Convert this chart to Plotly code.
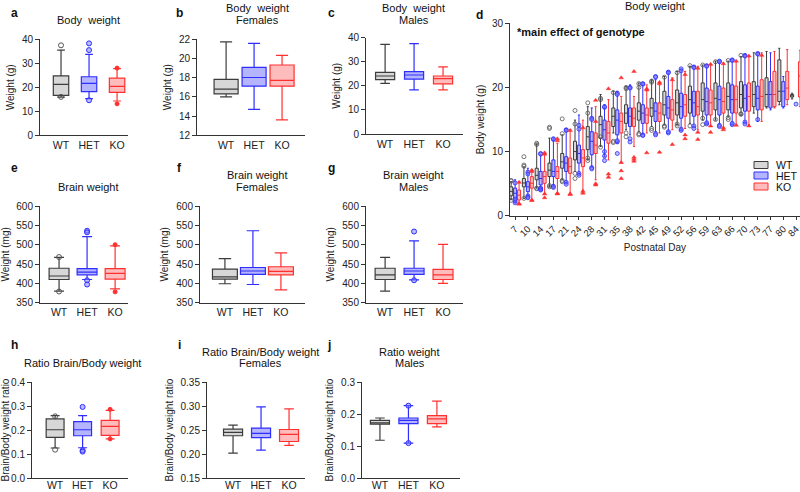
import plotly.graph_objects as go

W, H = 800, 492
FONT = "Liberation Sans, Arial, sans-serif"

genotypes = ["WT", "HET", "KO"]
line_colors = {"WT": "#3c3c3c", "HET": "#2e2eff", "KO": "#ff3030"}
fill_colors = {"WT": "rgba(140,140,140,0.35)", "HET": "rgba(70,70,255,0.40)", "KO": "rgba(255,80,80,0.38)"}

# ---------- small panels: [lower whisker, Q1, median, Q3, upper whisker] ----------
a_wt = [15.9, 16.6, 21.2, 24.8, 35.5]
a_het = [15.3, 18.2, 21.6, 24.4, 33.7]
a_ko = [14.3, 17.9, 20.4, 23.8, 27.8]
a_wt_out = [37.5, 16.0]
a_het_out = [38.3, 35.5, 14.6]
a_ko_out = [28.0, 13.1]

b_wt = [16.0, 16.3, 16.8, 17.8, 21.7]
b_het = [14.7, 17.1, 18.0, 19.05, 21.55]
b_ko = [13.6, 17.1, 17.7, 19.3, 20.3]

c_wt = [21.0, 22.6, 24.1, 25.6, 37.2]
c_het = [18.3, 22.8, 24.5, 25.9, 37.5]
c_ko = [18.3, 20.8, 23.0, 24.1, 27.9]

e_wt = [380, 410, 419, 439, 467]
e_het = [410, 422, 429, 438, 521]
e_ko = [386, 411, 426, 438, 497]
e_wt_out = [468, 379]
e_het_out = [536, 532, 408, 397]
e_ko_out = [500, 378]

f_wt = [399, 411, 417, 437, 464]
f_het = [397, 423, 432, 441, 536]
f_ko = [383, 422, 431, 443, 479]

g_wt = [380, 410, 422, 439, 467]
g_het = [409, 423, 432, 439, 510]
g_ko = [400, 410, 422, 436, 501]
g_het_out = [534, 408]

h_wt = [0.125, 0.169, 0.201, 0.246, 0.260]
h_het = [0.126, 0.176, 0.201, 0.235, 0.260]
h_ko = [0.163, 0.178, 0.215, 0.240, 0.282]
h_wt_out = [0.257, 0.118]
h_het_out = [0.296, 0.115, 0.110]
h_ko_out = [0.286, 0.163]

i_wt = [0.202, 0.238, 0.245, 0.252, 0.260]
i_het = [0.208, 0.234, 0.243, 0.254, 0.298]
i_ko = [0.218, 0.226, 0.241, 0.251, 0.294]

j_wt = [0.118, 0.168, 0.172, 0.180, 0.1875]
j_het = [0.109, 0.170, 0.180, 0.1875, 0.226]
j_ko = [0.160, 0.170, 0.185, 0.195, 0.240]
j_het_out = [0.226, 0.109]

# ---------- panel d: body weight by postnatal day ----------
days = [7, 10, 14, 17, 21, 24, 28, 31, 35, 38, 42, 45, 49, 52, 56, 59, 63, 66, 70, 73, 77, 80, 84]

wt_lo = [2.5, 2.7, 4.3, 4.5, 5.6, 6.9, 8.7, 10.8, 12.9, 13.4, 13.1, 13.9, 14.2, 14.2, 14.4, 14.9, 14.9, 15.5, 15.7, 16.0, 16.8, 17.3, 18.2]
wt_q1 = [3.1, 4.5, 5.6, 6.1, 7.4, 8.7, 10.3, 12.1, 13.9, 14.4, 14.9, 15.5, 15.7, 15.7, 16.0, 16.3, 16.5, 16.5, 16.8, 17.0, 17.0, 17.8, 18.5]
wt_med = [3.8, 5.1, 6.3, 7.1, 8.4, 10.0, 12.3, 14.2, 15.5, 16.0, 16.3, 16.8, 17.3, 17.6, 18.1, 18.1, 18.3, 18.6, 18.9, 18.9, 18.9, 19.4, 18.7]
wt_q3 = [4.5, 5.8, 7.4, 8.2, 9.7, 11.6, 13.9, 15.5, 16.8, 17.3, 17.6, 18.3, 19.4, 19.6, 20.2, 20.7, 20.7, 20.7, 20.9, 20.9, 21.5, 24.3, 18.9]
wt_hi = [5.3, 7.6, 11.2, 12.1, 12.6, 14.9, 17.0, 18.9, 19.4, 20.2, 20.7, 21.2, 21.7, 22.5, 23.3, 23.5, 24.1, 24.1, 24.8, 25.4, 25.6, 26.1, 19.1]

het_lo = [2.0, 3.0, 4.0, 4.3, 5.05, 6.35, 7.65, 9.2, 11.3, 12.6, 12.6, 13.1, 13.1, 13.4, 13.9, 14.4, 14.2, 14.2, 14.4, 14.7, 16.5, 16.8, None]
het_q1 = [2.7, 3.75, 4.8, 6.1, 6.9, 8.2, 9.5, 11.8, 12.6, 13.9, 14.4, 14.7, 15.2, 15.2, 15.5, 15.7, 15.7, 16.0, 16.3, 16.5, 16.8, 17.0, None]
het_med = [3.5, 4.5, 5.8, 6.9, 8.2, 9.7, 11.6, 13.4, 14.9, 15.5, 16.0, 16.3, 16.8, 17.0, 17.6, 17.8, 18.1, 18.1, 18.3, 18.3, 18.9, 19.4, None]
het_q3 = [4.3, 5.3, 6.9, 8.7, 9.2, 11.0, 13.1, 14.9, 16.5, 16.8, 17.3, 17.6, 18.6, 19.1, 19.4, 19.9, 20.2, 20.4, 20.4, 20.2, 20.9, 20.9, None]
het_hi = [5.6, 7.4, 9.5, 12.1, 13.6, 15.7, 16.8, 17.3, 19.4, 20.4, 20.7, 21.2, 22.5, 22.8, 23.3, 23.5, 24.1, 24.3, 25.1, 25.4, 25.4, 21.7, None]

ko_lo = [1.9, 2.45, 3.5, 3.5, 3.5, 4.0, 5.6, 8.7, 8.2, 10.8, 12.9, 12.9, 13.4, 13.6, 13.4, 13.9, 13.6, 14.2, 14.2, 14.7, 16.8, 17.3, 17.0]
ko_q1 = [2.45, 4.3, 5.05, 5.8, 6.6, 7.65, 9.7, 11.3, 12.9, 13.9, 14.4, 14.7, 14.9, 15.5, 15.7, 15.7, 16.0, 16.0, 16.3, 16.5, 17.0, 18.1, 18.5]
ko_med = [3.2, 5.05, 6.1, 6.9, 7.65, 9.0, 11.0, 12.9, 14.7, 15.2, 15.7, 16.0, 16.5, 17.3, 17.0, 17.6, 17.8, 18.1, 18.6, 18.6, 18.9, 19.9, 21.8]
ko_q3 = [4.0, 6.1, 6.9, 7.65, 9.0, 10.3, 12.9, 14.7, 16.0, 16.8, 16.8, 17.6, 18.1, 18.9, 19.4, 19.6, 19.9, 20.2, 20.7, 21.2, 22.5, 22.5, 24.0]
ko_hi = [5.3, 7.1, 9.7, 11.3, 13.4, 14.9, 17.0, 18.1, 18.6, 18.6, 20.4, 20.4, 21.5, 22.5, 23.3, 23.5, 23.8, 24.1, 24.8, 25.4, 25.6, 25.9, 25.8]

# individual points outside the whiskers, one list per day
wt_pts = [[5.4, 5.5, 2.4], [9.2, 7.9, 7.7, 2.7], [11.3, 11.1, 4.2, 4.3], [13.8, 13.6, 4.7, 4.5], [15.1, 12.8, 5.5, 5.3],
          [16.4, 14.3, 6.6, 5.8], [17.6, 16.0, 9.0, 8.6], [18.3, 18.1, 12.3, 10.7], [19.2, 11.6, 11.4], [20.0, 19.8, 12.9, 12.3],
          [20.6, 20.0, 12.6, 12.8], [21.0, 20.8, 13.6, 13.3], [21.6, 14.0, 13.8], [22.3, 14.3, 14.0], [23.4, 14.0],
          [23.5, 15.2, 14.2], [24.0, 15.0], [24.2, 15.3, 15.0], [25.0, 15.8, 15.9], [], [], [], []]
het_pts = [[5.1, 2.0, 2.3, 2.6], [6.8, 6.5, 3.1, 2.9, 2.8], [9.7, 9.6, 4.1, 4.2, 4.3, 4.0], [11.9, 12.0, 4.6, 4.4],
           [13.4, 13.3, 5.2, 4.9], [14.1, 13.5, 6.6, 6.3], [15.2, 15.0, 7.5, 7.3], [16.9, 17.0, 9.3, 8.6, 10.0],
           [19.1, 18.9, 11.5, 11.7, 9.7], [20.0, 19.9, 12.0, 11.5], [20.5, 20.6, 12.6, 12.5], [21.7, 21.6, 12.8, 12.6],
           [22.4, 22.3, 12.9, 13.1], [22.9, 22.6, 13.3, 13.5], [23.2, 23.1, 13.6, 14.0], [23.4, 23.3, 14.3, 14.5],
           [24.1, 24.0, 13.9, 14.1], [24.3, 24.2, 14.2, 14.4], [25.0, 24.9, 14.6, 14.3], [25.3, 25.2, 15.0], [], [], [17.4]]
ko_pts = [[5.2, 1.8, 1.9], [7.1, 6.9, 2.4, 2.4], [9.6, 9.8, 3.4, 2.8], [11.7, 12.0, 3.4, 3.5], [13.3, 3.4, 3.3],
          [13.7, 3.5, 3.8], [18.0, 14.7, 5.0, 4.8], [19.8, 6.5, 6.0], [21.5, 8.3, 7.0, 5.8], [22.5, 9.1, 8.8, 8.5],
          [19.8, 19.6, 9.8], [20.6, 20.8, 9.9], [21.2, 11.1], [22.0, 12.6, 12.0], [23.0, 13.0, 11.9],
          [23.6, 14.0, 13.0], [23.7, 13.7, 13.4], [24.1, 14.1], [24.9, 14.0], [25.0], [], [], []]

# ---------- layout of panels (pixel geometry) ----------
panels = [
    # key, x px, y px (top,bottom), x range, y range, dtick, fmt, y title, box width
    ("a", (40, 128), (39.3, 135.3), (-0.75, 2.39), (0, 40), 10, "d", "Weight (g)", 0.55),
    ("b", (197, 305), (39, 135.3), (-1.04, 2.82), (12, 22), 2, "d", "Weight (g)", 0.86),
    ("c", (366, 463), (37.7, 134), (-0.66, 2.69), (0, 40), 10, "d", "Weight (g)", 0.66),
    ("d", (510, 800), (23.3, 215.7), (-0.4, 22.31), (0, 30), 10, "d", "Body weight (g)", 0.24),
    ("e", (40, 128), (206, 302.7), (-0.68, 2.46), (350, 600), 50, "d", "Weight (mg)", 0.71),
    ("f", (200, 305), (206, 302.7), (-0.89, 2.86), (350, 600), 50, "d", "Weight (mg)", 0.89),
    ("g", (366, 463), (206, 302.7), (-0.66, 2.69), (350, 600), 50, "d", "Weight (mg)", 0.69),
    ("h", (32, 128), (382, 478), (-0.84, 2.65), (0, 0.4), 0.1, ".1f", "Brain/Body weight ratio", 0.65),
    ("i", (207, 305), (382, 478), (-0.93, 2.57), (0.15, 0.35), 0.05, ".2f", "Brain/Body weight ratio", 0.68),
    ("j", (362, 460), (382, 478), (-0.63, 2.81), (0, 0.3), 0.1, ".1f", "Brain/Body weight ratio", 0.67),
]

small_data = {
    "a": ([a_wt, a_het, a_ko], [a_wt_out, a_het_out, a_ko_out]),
    "b": ([b_wt, b_het, b_ko], [[], [], []]),
    "c": ([c_wt, c_het, c_ko], [[], [], []]),
    "e": ([e_wt, e_het, e_ko], [e_wt_out, e_het_out, e_ko_out]),
    "f": ([f_wt, f_het, f_ko], [[], [], []]),
    "g": ([g_wt, g_het, g_ko], [[], g_het_out, []]),
    "h": ([h_wt, h_het, h_ko], [h_wt_out, h_het_out, h_ko_out]),
    "i": ([i_wt, i_het, i_ko], [[], [], []]),
    "j": ([j_wt, j_het, j_ko], [[], j_het_out, []]),
}

fig = go.Figure()
layout = dict(template="none", width=W, height=H, margin=dict(l=0, r=0, t=0, b=0, pad=0, autoexpand=False),
              paper_bgcolor="white", plot_bgcolor="white",
              font=dict(family=FONT, color="#222", size=10), boxmode="overlay",
              showlegend=False)

marker_style = {
    "WT": dict(symbol="circle-open", color="#555", size=5, line=dict(width=1, color="#555")),
    "HET": dict(symbol="circle", color="rgba(120,120,255,0.5)", size=5, line=dict(width=1, color="#2e2eff")),
    "KO": dict(symbol="circle", color="#ff3030", size=4, line=dict(width=1, color="#ff3030")),
}
marker_style_d = {
    "WT": dict(symbol="circle-open", color="#555", size=4, line=dict(width=0.8, color="#555")),
    "HET": dict(symbol="circle", color="rgba(120,120,255,0.5)", size=4, line=dict(width=0.8, color="#2e2eff")),
    "KO": dict(symbol="triangle-up", color="#ff3030", size=4, line=dict(width=0.5, color="#ff3030")),
}

for n, (key, pxr, pyr, xr, yr, dt, fmt, ytitle, bw) in enumerate(panels, start=1):
    xa = "x" if n == 1 else f"x{n}"
    ya = "y" if n == 1 else f"y{n}"
    xk = "xaxis" if n == 1 else f"xaxis{n}"
    yk = "yaxis" if n == 1 else f"yaxis{n}"
    axis_common = dict(showline=True, linecolor="#333", linewidth=1, showgrid=False, zeroline=False,
                       automargin=False, tickcolor="#333", ticklabeloverflow="allow",
                       tickfont=dict(size=10, family=FONT, color="#222"))
    layout[yk] = dict(domain=[1 - pyr[1] / H, 1 - pyr[0] / H], range=list(yr), anchor=xa,
                      tickmode="linear", tick0=yr[0], dtick=dt, tickformat=fmt, ticks="outside", ticklen=4,
                      title=dict(text=ytitle, font=dict(size=10, family=FONT, color="#222"), standoff=5),
                      **axis_common)
    if key == "d":
        layout[xk] = dict(domain=[pxr[0] / W, pxr[1] / W], range=list(xr), anchor=ya,
                          tickmode="array", tickvals=list(range(len(days))), ticktext=[str(d) for d in days],
                          tickangle=-45, ticks="outside", ticklen=3,
                          title=dict(text="Postnatal Day", font=dict(size=10, family=FONT, color="#222"), standoff=6),
                          **axis_common)
        layout[xk]["tickfont"] = dict(size=9.5, family=FONT, color="#222")
        series = [
            ("WT", wt_lo, wt_q1, wt_med, wt_q3, wt_hi, wt_pts, -0.31),
            ("HET", het_lo, het_q1, het_med, het_q3, het_hi, het_pts, 0.0),
            ("KO", ko_lo, ko_q1, ko_med, ko_q3, ko_hi, ko_pts, 0.31),
        ]
        for g, lo, q1, med, q3, hi, pts, off in series:
            idx = [k for k in range(len(days)) if med[k] is not None]
            fig.add_trace(go.Box(
                x=[k + off for k in idx], lowerfence=[lo[k] for k in idx], q1=[q1[k] for k in idx],
                median=[med[k] for k in idx], q3=[q3[k] for k in idx], upperfence=[hi[k] for k in idx],
                width=bw, whiskerwidth=0.7, boxpoints=False, name=g,
                line=dict(color=line_colors[g], width=1), fillcolor=fill_colors[g],
                xaxis=xa, yaxis=ya, hoverinfo="skip"))
            px_, py_ = [], []
            for k, vals in enumerate(pts):
                for v in vals:
                    px_.append(k + off)
                    py_.append(v)
            fig.add_trace(go.Scatter(x=px_, y=py_, mode="markers", marker=marker_style_d[g],
                                     xaxis=xa, yaxis=ya, hoverinfo="skip"))
    else:
        bottom_row = key in ("h", "i", "j")
        layout[xk] = dict(domain=[pxr[0] / W, pxr[1] / W], range=list(xr), anchor=ya,
                          tickmode="array", tickvals=[0, 1, 2], ticktext=genotypes, ticks="",
                          ticklabelstandoff=-3 if bottom_row else 0,
                          **axis_common)
        layout[xk]["tickfont"] = dict(size=10.5, family=FONT, color="#222")
        stats, outs = small_data[key]
        for k, g in enumerate(genotypes):
            lo, q1, med, q3, hi = stats[k]
            fig.add_trace(go.Box(
                x=[k], lowerfence=[lo], q1=[q1], median=[med], q3=[q3], upperfence=[hi],
                width=bw, whiskerwidth=0.5, boxpoints=False, name=g,
                line=dict(color=line_colors[g], width=1.2), fillcolor=fill_colors[g],
                xaxis=xa, yaxis=ya, hoverinfo="skip"))
            if outs[k]:
                fig.add_trace(go.Scatter(x=[k] * len(outs[k]), y=outs[k], mode="markers",
                                         marker=marker_style[g],
                                         xaxis=xa, yaxis=ya, hoverinfo="skip"))

# ---------- titles, panel letters, legend ----------
annots = []
def txt(x, y, s, size=11, bold=False, anchor="center"):
    annots.append(dict(x=x / W, y=1 - y / H, xref="paper", yref="paper", text=f"<b>{s}</b>" if bold else s,
                       showarrow=False, xanchor=anchor, yanchor="middle",
                       font=dict(size=size, family=FONT, color="#111")))

titles = [
    (88, 20, "Body  weight"), (257, 8, "Body  weight"), (257, 20, "Females"),
    (414, 8, "Body  weight"), (414, 20, "Males"),
    (655, 6, "Body weight"),
    (88, 187, "Brain weight"), (257, 175, "Brain weight"), (257, 187, "Females"),
    (414, 175, "Brain weight"), (414, 187, "Males"),
    (82, 363, "Ratio Brain/Body weight"), (260, 352, "Ratio Brain/Body weight"), (260, 363, "Females"),
    (410, 352, "Ratio weight"), (410, 363, "Males"),
]
for x, y, s in titles:
    txt(x, y, s, size=11)

letters = [(14, 13, "a"), (179, 13, "b"), (331, 13, "c"), (479, 15, "d"),
           (14, 168, "e"), (179, 168, "f"), (331, 168, "g"),
           (14, 345, "h"), (179, 345, "i"), (329, 345, "j")]
for x, y, s in letters:
    txt(x, y, s, size=12, bold=True)

txt(515, 32, "*main effect of genotype", size=11, bold=True, anchor="left")

# compact legend for panel d
shapes = []
legend_rows = [("WT", 165), ("HET", 175.5), ("KO", 186.5)]
for g, yc in legend_rows:
    shapes.append(dict(type="rect", xref="paper", yref="paper",
                       x0=754 / W, x1=768 / W, y0=1 - (yc + 3.5) / H, y1=1 - (yc - 3.5) / H,
                       line=dict(color=line_colors[g], width=1), fillcolor=fill_colors[g]))
    txt(774, yc, g, size=10.5, anchor="left")

layout["annotations"] = annots
layout["shapes"] = shapes
fig.update_layout(**layout)
fig.write_html("out.html", config={"displayModeBar": False},
               post_script="document.body.style.margin='0';document.body.style.padding='0';"
                           "document.body.style.overflow='hidden';")
